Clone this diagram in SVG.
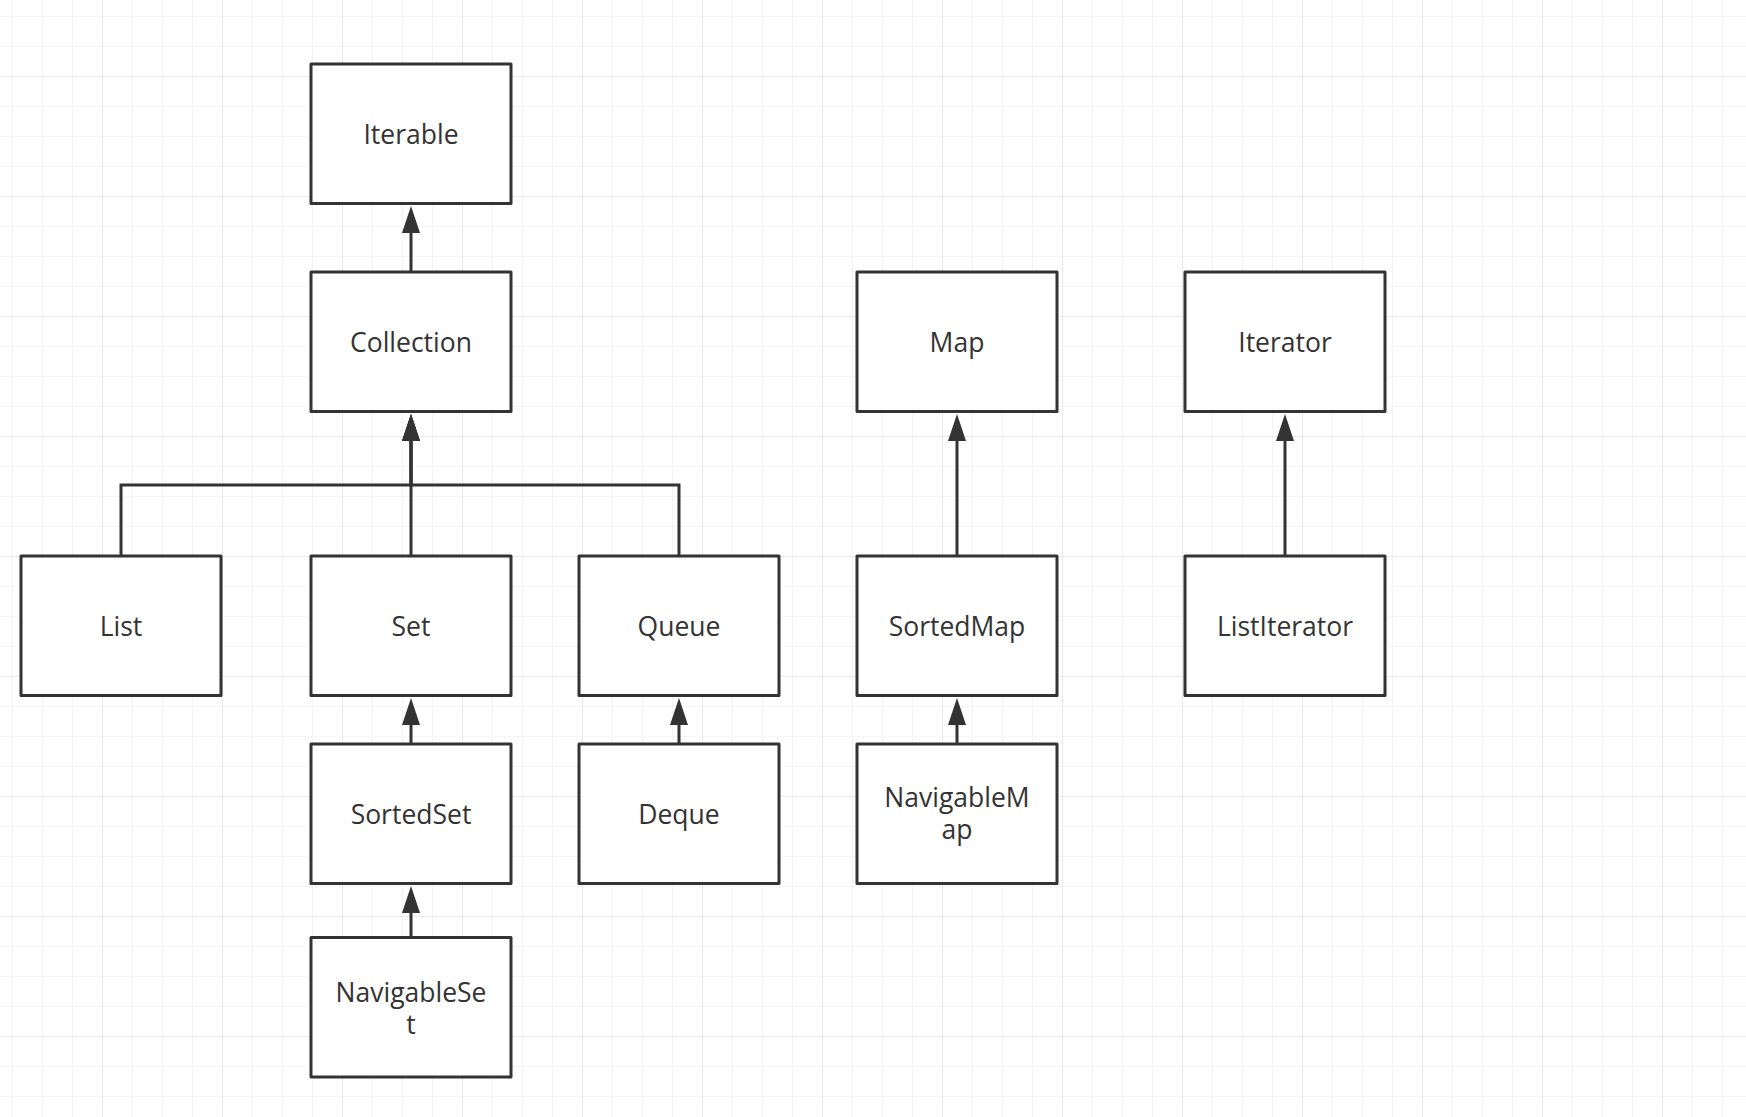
<svg xmlns="http://www.w3.org/2000/svg" width="1746" height="1117" viewBox="0 0 1746 1117">
  <style>
    .box { fill: #ffffff; stroke: #333333; stroke-width: 3; stroke-linejoin: round; }
    .label { font-family: "Open Sans", "Noto Sans", "Liberation Sans", sans-serif; font-size: 26.5px; fill: #333333; text-anchor: middle; }
    .edge { fill: none; stroke: #333333; stroke-width: 3; stroke-linejoin: miter; }
  </style>
  <defs>
    <!-- background grid: fine lines every 30px, heavier lines every 120px -->
    <pattern id="minorGrid" patternUnits="userSpaceOnUse" x="12" y="16" width="30" height="30">
      <path d="M0 0 H30 M0 0 V30" fill="none" stroke="#f2f2f2" stroke-width="1.6"/>
    </pattern>
    <pattern id="majorGrid" patternUnits="userSpaceOnUse" x="102" y="76" width="120" height="120">
      <path d="M0 0 H120 M0 0 V120" fill="none" stroke="#e6e6e6" stroke-width="1.6"/>
    </pattern>
    <!-- filled block arrowhead, origin at its base -->
    <marker id="arrow" markerUnits="userSpaceOnUse" markerWidth="28" markerHeight="20" refX="0" refY="9.5" orient="auto">
      <path d="M0 0.5 L27 9.5 L0 18.5 Z" fill="#333333"/>
    </marker>
  </defs>

  <rect width="1746" height="1117" fill="#ffffff"/>
  <rect width="1746" height="1117" fill="url(#minorGrid)"/>
  <rect width="1746" height="1117" fill="url(#majorGrid)"/>

  <!-- inheritance connectors -->
  <g id="connectors">
    <path class="edge" d="M411 272 V233" marker-end="url(#arrow)"/>
    <path class="edge" d="M411 556 V441" marker-end="url(#arrow)"/>
    <path class="edge" d="M121 556 V485 H411 V441" marker-end="url(#arrow)"/>
    <path class="edge" d="M679 556 V485 H411 V441" marker-end="url(#arrow)"/>
    <path class="edge" d="M411 744 V725" marker-end="url(#arrow)"/>
    <path class="edge" d="M411 938 V913" marker-end="url(#arrow)"/>
    <path class="edge" d="M679 744 V725" marker-end="url(#arrow)"/>
    <path class="edge" d="M957 556 V441" marker-end="url(#arrow)"/>
    <path class="edge" d="M957 744 V725" marker-end="url(#arrow)"/>
    <path class="edge" d="M1285 556 V441" marker-end="url(#arrow)"/>
  </g>

  <g id="iterable">
    <rect class="box" x="311" y="64" width="200" height="139.5"/>
    <text class="label" x="411" y="144.3">Iterable</text>
  </g>
  <g id="collection">
    <rect class="box" x="311" y="272" width="200" height="139.5"/>
    <text class="label" x="411" y="352.3">Collection</text>
  </g>
  <g id="map">
    <rect class="box" x="857" y="272" width="200" height="139.5"/>
    <text class="label" x="957" y="352.3">Map</text>
  </g>
  <g id="iterator">
    <rect class="box" x="1185" y="272" width="200" height="139.5"/>
    <text class="label" x="1285" y="352.3">Iterator</text>
  </g>
  <g id="list">
    <rect class="box" x="21" y="556" width="200" height="139.5"/>
    <text class="label" x="121" y="636.3">List</text>
  </g>
  <g id="set">
    <rect class="box" x="311" y="556" width="200" height="139.5"/>
    <text class="label" x="411" y="636.3">Set</text>
  </g>
  <g id="queue">
    <rect class="box" x="579" y="556" width="200" height="139.5"/>
    <text class="label" x="679" y="636.3">Queue</text>
  </g>
  <g id="sortedmap">
    <rect class="box" x="857" y="556" width="200" height="139.5"/>
    <text class="label" x="957" y="636.3">SortedMap</text>
  </g>
  <g id="listiterator">
    <rect class="box" x="1185" y="556" width="200" height="139.5"/>
    <text class="label" x="1285" y="636.3">ListIterator</text>
  </g>
  <g id="sortedset">
    <rect class="box" x="311" y="744" width="200" height="139.5"/>
    <text class="label" x="411" y="824.3">SortedSet</text>
  </g>
  <g id="deque">
    <rect class="box" x="579" y="744" width="200" height="139.5"/>
    <text class="label" x="679" y="824.3">Deque</text>
  </g>
  <g id="navigablemap">
    <rect class="box" x="857" y="744" width="200" height="139.5"/>
    <text class="label" x="957" y="807.3">NavigableM<tspan x="957" dy="32">ap</tspan></text>
  </g>
  <g id="navigableset">
    <rect class="box" x="311" y="937.5" width="200" height="139.5"/>
    <text class="label" x="411" y="1001.5">NavigableSe<tspan x="411" dy="32">t</tspan></text>
  </g>
</svg>
